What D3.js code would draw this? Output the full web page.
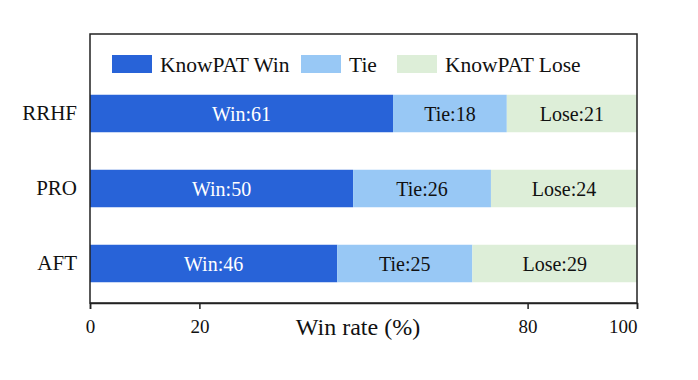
<!DOCTYPE html>
<html>
<head>
<meta charset="utf-8">
<script src="https://cdn.jsdelivr.net/npm/d3@7"></script>
<style>
  html, body { margin: 0; padding: 0; background: #fff; }
  svg { display: block; }
  text { font-family: "Liberation Serif", "DejaVu Serif", serif; }
</style>
</head>
<body>
<svg id="chart" width="698" height="380"></svg>
<script>
// ---- data ----
const categories = ["RRHF", "PRO", "AFT"];
// bar extents as drawn in the reference (percent of axis)
const winValues  = [55.4, 48.1, 45.2];
const tieValues  = [20.8, 25.2, 24.7];
const loseValues = [23.8, 26.7, 30.1];
// annotated numbers printed on the bars
const winLabels  = [61, 50, 46];
const tieLabels  = [18, 26, 25];
const loseLabels = [21, 24, 29];
const seriesNames = ["KnowPAT Win", "Tie", "KnowPAT Lose"];
const tickValues = [0, 20, 80, 100];
const axisTitle = "Win rate (%)";

// ---- layout ----
const M = { left: 90, right: 637, top: 34, bottom: 303 };
const colors = ["#2863d8", "#98c8f5", "#ddeed8"];
const labelColors = ["#ffffff", "#111111", "#111111"];
const prefixes = ["Win:", "Tie:", "Lose:"];

const svg = d3.select("#chart");

const x = d3.scaleLinear().domain([0, 100]).range([M.left, M.right]);
const y = d3.scaleBand().domain(categories).range([76, 301])
  .paddingInner(0.5).paddingOuter(0.25);

const rows = categories.map((c, i) => {
  const vals = [winValues[i], tieValues[i], loseValues[i]];
  const labs = [winLabels[i], tieLabels[i], loseLabels[i]];
  let acc = 0;
  return vals.map((v, k) => {
    const seg = { cat: c, k, x0: acc, x1: acc + v, label: prefixes[k] + labs[k] };
    acc += v;
    return seg;
  });
}).flat();

// bars
svg.append("g").selectAll("rect").data(rows).join("rect")
  .attr("x", d => x(d.x0))
  .attr("y", d => y(d.cat))
  .attr("width", d => x(Math.min(d.x1, 100)) - x(d.x0))
  .attr("height", y.bandwidth())
  .attr("fill", d => colors[d.k]);

// bar labels
svg.append("g").selectAll("text").data(rows).join("text")
  .attr("x", d => (x(d.x0) + x(Math.min(d.x1, 100))) / 2)
  .attr("y", d => y(d.cat) + y.bandwidth() / 2)
  .attr("dy", "0.35em")
  .attr("text-anchor", "middle")
  .attr("font-size", 20)
  .attr("fill", d => labelColors[d.k])
  .text(d => d.label);

// frame
svg.append("rect")
  .attr("x", M.left).attr("y", M.top)
  .attr("width", M.right - M.left).attr("height", M.bottom - M.top)
  .attr("fill", "none").attr("stroke", "#222").attr("stroke-width", 1.5);

// x axis
const xAxis = d3.axisBottom(x).tickValues(tickValues).tickSize(6).tickPadding(11)
  .tickFormat(d3.format("d"));
const gx = svg.append("g").attr("transform", `translate(0,${M.bottom})`).call(xAxis);
gx.attr("font-family", null).attr("font-size", null);
gx.select(".domain").attr("stroke", "#222").attr("stroke-width", 1.5);
gx.selectAll(".tick line").attr("stroke", "#222").attr("stroke-width", 1.5);
gx.selectAll(".tick text")
  .style("font-size", "19px")
  .attr("fill", "#111")
  .attr("text-anchor", d => d === 100 ? "end" : "middle");

// y axis labels (no ticks)
const yAxis = d3.axisLeft(y).tickSize(0).tickPadding(13);
const gy = svg.append("g").attr("transform", `translate(${M.left},0)`).call(yAxis);
gy.attr("font-family", null).attr("font-size", null);
gy.select(".domain").remove();
gy.selectAll(".tick text")
  .style("font-size", "21px")
  .attr("fill", "#111");

// axis title
svg.append("text")
  .attr("x", 358)
  .attr("y", 335)
  .attr("text-anchor", "middle")
  .attr("font-size", 24)
  .attr("fill", "#111")
  .text(axisTitle);

// legend
const legendX = [112, 301, 397];
const lg = svg.append("g").selectAll("g").data(seriesNames).join("g")
  .attr("transform", (d, i) => `translate(${legendX[i]},55)`);
lg.append("rect").attr("width", 40).attr("height", 18)
  .attr("fill", (d, i) => colors[i]);
lg.append("text").attr("x", 48).attr("y", 9).attr("dy", "0.35em")
  .attr("font-size", 21.5).attr("fill", "#111").text(d => d);
</script>
</body>
</html>
